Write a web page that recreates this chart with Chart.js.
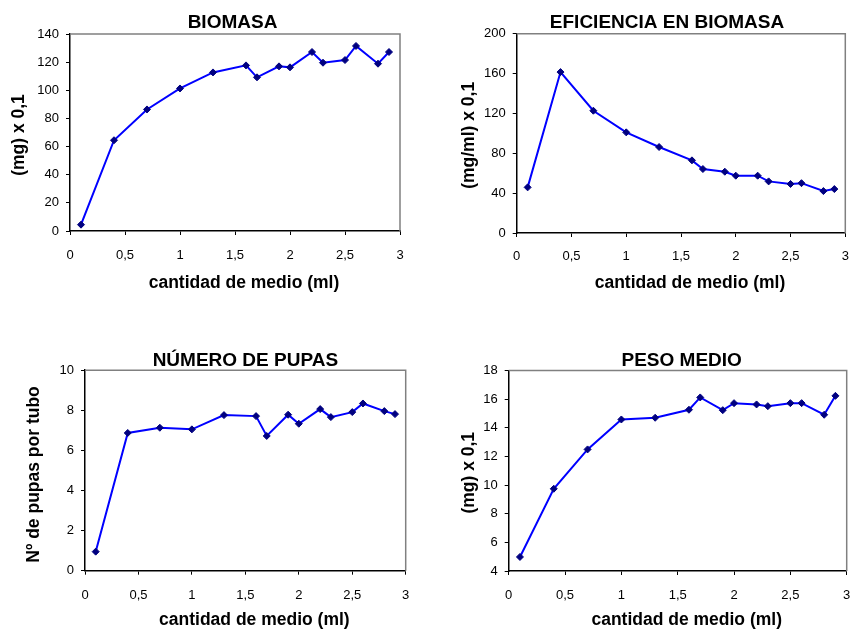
<!DOCTYPE html>
<html>
<head>
<meta charset="utf-8">
<script src="https://cdn.jsdelivr.net/npm/chart.js"></script>
<style>
  body { margin: 0; background: #fff; }
  canvas { position: absolute; }
</style>
</head>
<body>
<canvas id="c1" width="426" height="314" style="left:0;top:0"></canvas>
<canvas id="c2" width="426" height="314" style="left:426px;top:0"></canvas>
<canvas id="c3" width="426" height="315" style="left:0;top:314px"></canvas>
<canvas id="c4" width="426" height="315" style="left:426px;top:314px"></canvas>
<script>
// cantidad de medio (ml)
const xValues = [0.1, 0.4, 0.7, 1.0, 1.3, 1.6, 1.7, 1.9, 2.0, 2.2, 2.3, 2.5, 2.6, 2.8, 2.9];
const xTickLabels = ['0', '0,5', '1', '1,5', '2', '2,5', '3'];

const biomasa = [4.5, 64.5, 86.4, 101.3, 112.7, 117.7, 109.2, 117, 116.3, 127.2, 119.6, 121.5, 131.5, 118.9, 127.2];
const eficiencia = [45.8, 161.5, 122.7, 101, 86.3, 72.9, 64.2, 61.5, 57.5, 57.5, 51.8, 49.2, 50, 42.1, 44.1];
const pupas = [0.95, 6.87, 7.13, 7.05, 7.76, 7.71, 6.72, 7.78, 7.33, 8.06, 7.66, 7.91, 8.34, 7.96, 7.81];
const peso = [4.98, 9.74, 12.49, 14.58, 14.7, 15.26, 16.12, 15.23, 15.72, 15.63, 15.51, 15.72, 15.72, 14.91, 16.23];

const FONT = "'Liberation Sans', Arial, sans-serif";
const TICK_SIZE = 13;
const AXIS_TITLE_SIZE = 17.5;
Chart.defaults.font.family = FONT;
Chart.defaults.color = '#000';

// draws the grey top/right edge of the plot area
const plotFrame = {
    id: 'plotFrame',
    afterDraw(chart) {
        const {ctx, chartArea: a} = chart;
        ctx.save();
        ctx.strokeStyle = '#808080';
        ctx.lineWidth = 1.5;
        ctx.beginPath();
        ctx.moveTo(a.left, a.top);
        ctx.lineTo(a.right, a.top);
        ctx.lineTo(a.right, a.bottom);
        ctx.stroke();
        ctx.restore();
    }
};

// Excel centres titles on the whole chart, not on the plot: nudge them
function shiftScaleTitle(scale, dx, dy) {
    if (!scale || (!dx && !dy) || scale._shifted) return;
    const orig = Object.getPrototypeOf(scale).drawTitle;
    scale.drawTitle = function () {
        this.ctx.save();
        this.ctx.translate(dx || 0, dy || 0);
        orig.call(this);
        this.ctx.restore();
    };
    scale._shifted = true;
}

const titleShift = {
    id: 'titleShift',
    afterLayout(chart, args, opts) {
        const t = chart.titleBlock;
        if (t && opts.dx) {
            t.left += opts.dx;
            t.right += opts.dx;
        }
        shiftScaleTitle(chart.scales.x, opts.xTitleDx, 0);
        shiftScaleTitle(chart.scales.y, 0, opts.yTitleDy);
    }
};

function makeChart(id, cfg) {
    const ctx = document.getElementById(id).getContext('2d');
    return new Chart(ctx, {
        type: 'line',
        data: {
            datasets: [{
                data: xValues.map((x, i) => ({x: x, y: cfg.values[i]})),
                borderColor: '#0000FF',
                borderWidth: 2,
                pointStyle: 'rectRot',
                pointRadius: 3.5,
                pointBackgroundColor: '#000080',
                pointBorderColor: '#000080',
                pointBorderWidth: 1,
                tension: 0,
                fill: false
            }]
        },
        options: {
            responsive: false,
            animation: false,
            devicePixelRatio: 1,
            layout: { padding: { left: 0, top: 0, right: cfg.padRight, bottom: 0 } },
            plugins: {
                legend: { display: false },
                tooltip: { enabled: false },
                title: {
                    display: true,
                    text: cfg.title,
                    fullSize: false,
                    color: '#000',
                    font: { size: 19, weight: 'bold', lineHeight: 1 },
                    padding: { top: cfg.titleTop, bottom: cfg.titleBottom }
                },
                titleShift: { dx: cfg.titleDx, xTitleDx: 9, yTitleDy: cfg.yTitleDy }
            },
            scales: {
                x: {
                    type: 'linear',
                    min: 0,
                    max: 3,
                    afterFit: s => { s.height = cfg.xHeight; },
                    afterBuildTicks: s => {
                        s.ticks = xTickLabels.map((t, i) => ({value: i * 0.5}));
                    },
                    ticks: {
                        // label gap comes from the line height, so the right margin stays free
                        font: { size: TICK_SIZE, lineHeight: 2 * cfg.xLabelOffset / TICK_SIZE },
                        padding: 0,
                        maxRotation: 0,
                        autoSkip: false,
                        callback: (v, i) => xTickLabels[i]
                    },
                    grid: { display: true, drawOnChartArea: false, drawTicks: true, tickLength: 4, color: '#000', lineWidth: 1 },
                    border: { display: true, color: '#000', width: 1.5 },
                    title: {
                        display: true,
                        text: 'cantidad de medio (ml)',
                        font: { size: AXIS_TITLE_SIZE, weight: 'bold', lineHeight: 1 },
                        padding: { top: 0, bottom: cfg.xTitlePad }
                    }
                },
                y: {
                    min: cfg.yMin,
                    max: cfg.yMax,
                    afterFit: s => { s.width = cfg.yWidth; },
                    ticks: {
                        stepSize: cfg.yStep,
                        font: { size: TICK_SIZE },
                        padding: 7
                    },
                    grid: { display: true, drawOnChartArea: false, drawTicks: true, tickLength: 4, color: '#000', lineWidth: 1 },
                    border: { display: true, color: '#000', width: 1.5 },
                    title: {
                        display: true,
                        text: cfg.yTitle,
                        font: { size: AXIS_TITLE_SIZE, weight: 'bold', lineHeight: 1 },
                        padding: { top: cfg.yTitlePad, bottom: 0 }
                    }
                }
            }
        },
        plugins: [plotFrame, titleShift]
    });
}

makeChart('c1', {
    title: 'BIOMASA', values: biomasa, yTitle: '(mg) x 0,1',
    yMin: 0, yMax: 140, yStep: 20,
    padRight: 26, yWidth: 70, xHeight: 83,
    titleTop: 13.5, titleBottom: 1.5, titleDx: -2.5,
    xLabelOffset: 20, xTitlePad: 22.5, yTitlePad: 10.5, yTitleDy: 2.5
});

makeChart('c2', {
    title: 'EFICIENCIA EN BIOMASA', values: eficiencia, yTitle: '(mg/ml) x 0,1',
    yMin: 0, yMax: 200, yStep: 40,
    padRight: 6.7, yWidth: 90.7, xHeight: 81,
    titleTop: 13.5, titleBottom: 1.2, titleDx: -14,
    xLabelOffset: 19.7, xTitlePad: 22, yTitlePad: 34, yTitleDy: 2
});

makeChart('c3', {
    title: 'NÚMERO DE PUPAS', values: pupas, yTitle: 'Nº de pupas por tubo',
    yMin: 0, yMax: 10, yStep: 2,
    padRight: 20.3, yWidth: 85, xHeight: 58.3,
    titleTop: 37.2, titleBottom: 0, titleDx: 0,
    xLabelOffset: 20.3, xTitlePad: 0, yTitlePad: 25.5, yTitleDy: 4
});

makeChart('c4', {
    title: 'PESO MEDIO', values: peso, yTitle: '(mg) x 0,1',
    yMin: 4, yMax: 18, yStep: 2,
    padRight: 5.3, yWidth: 82.7, xHeight: 58,
    titleTop: 37.5, titleBottom: 0, titleDx: 4,
    xLabelOffset: 20, xTitlePad: 0, yTitlePad: 34, yTitleDy: 2
});
</script>
</body>
</html>
